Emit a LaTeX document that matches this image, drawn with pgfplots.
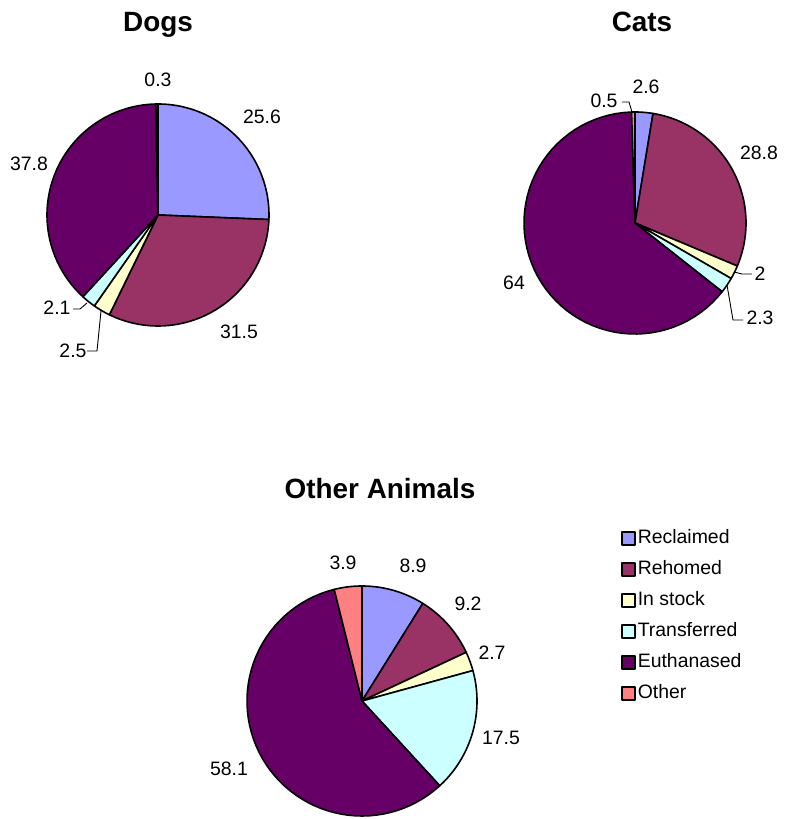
\documentclass[border=0pt]{standalone}
\usepackage{pgfplots}
\pgfplotsset{compat=1.18}
\usepackage{pgfplotstable}
\usepackage{fontspec}
\setmainfont{Liberation Sans}

\definecolor{slice0}{HTML}{9999FF}
\definecolor{slice1}{HTML}{993366}
\definecolor{slice2}{HTML}{FFFFCC}
\definecolor{slice3}{HTML}{CCFFFF}
\definecolor{slice4}{HTML}{660066}
\definecolor{slice5}{HTML}{FF8080}

\tikzset{
  lbl/.style={font=\fontsize{19.5}{22}\selectfont},
  ttl/.style={font=\bfseries\fontsize{28}{30}\selectfont, anchor=base},
}

% shares in percent, clockwise from 12 o'clock:
% Reclaimed, Rehomed, In stock, Transferred, Euthanased, Other
\pgfplotstableread{
value
25.6
31.5
2.5
2.1
37.8
0.3
}\dogs
\pgfplotstableread{
value
2.6
28.8
2
2.3
64
0.5
}\cats
\pgfplotstableread{
value
8.9
9.2
2.7
17.5
58.1
3.9
}\others

% #1 table, #2 #3 centre, #4 radius, #5 extra plot options
\newcommand\drawpie[5]{%
  \gdef\pietotal{0}%
  \pgfplotsinvokeforeach{0,1,2,3,4,5}{%
    \pgfplotstablegetelem{##1}{value}\of{#1}%
    \pgfmathparse{\pietotal+\pgfplotsretval}%
    \xdef\pietotal{\pgfmathresult}%
  }%
  \gdef\piecum{0}%
  \pgfplotsinvokeforeach{0,1,2,3,4,5}{%
    \pgfplotstablegetelem{##1}{value}\of{#1}%
    \pgfmathparse{90-360*(\piecum/\pietotal)}\xdef\pa{\pgfmathresult}%
    \pgfmathparse{\piecum+\pgfplotsretval}\xdef\piecum{\pgfmathresult}%
    \pgfmathparse{90-360*(\piecum/\pietotal)}\xdef\pb{\pgfmathresult}%
    \edef\temp{\noexpand\addplot[wedge, fill=slice##1, domain=\pb:\pa, #5]
      ({#2+#4*cos(x)},{#3+#4*sin(x)}) -- (axis cs:#2,#3) -- cycle;}%
    \temp
  }%
}

\begin{document}
\begin{tikzpicture}
\begin{axis}[
  width=786bp, height=819bp, scale only axis,
  xmin=0, xmax=786, ymin=0, ymax=819,
  hide axis, clip=false,
  wedge/.style={draw=black, line width=1.6bp, samples=60, line join=round},
  legend image code/.code={\filldraw[#1] (0bp,-7bp) rectangle (13bp,6bp);},
  legend style={at={(axis cs:621,292)}, anchor=north west, draw=none, fill=none,
    font=\fontsize{19.5}{22}\selectfont, row sep=9bp, inner sep=0pt,
    nodes={inner sep=2bp, text height=14bp, text depth=4bp}},
  legend cell align=left,
  leader/.style={black, line width=0.9bp, forget plot},
]
\path (rel axis cs:0,0) rectangle (rel axis cs:1,1);

\drawpie{\dogs}{158}{604}{111}{forget plot}
\drawpie{\cats}{635}{596}{111}{forget plot}
\drawpie{\others}{362}{118}{115}{}
\legend{Reclaimed, Rehomed, In stock, Transferred, Euthanased, Other}

% leader lines for the thin slices
\addplot[leader] coordinates {(87,468) (97,468) (101,508)};
\addplot[leader] coordinates {(73,510) (80,510) (87,516)};
\addplot[leader] coordinates {(622,717) (629,717) (632,707)};
\addplot[leader] coordinates {(752,545) (742,545) (734,547)};
\addplot[leader] coordinates {(743,499) (733,499) (727,534)};

% titles
\node[ttl] at (axis cs:158,787) {Dogs};
\node[ttl] at (axis cs:642,787) {Cats};
\node[ttl] at (axis cs:380,320) {Other Animals};

% slice labels
\node[lbl] at (axis cs:158,739) {0.3};
\node[lbl] at (axis cs:262,702) {25.6};
\node[lbl] at (axis cs:239,487) {31.5};
\node[lbl] at (axis cs:73,468) {2.5};
\node[lbl] at (axis cs:57,511) {2.1};
\node[lbl] at (axis cs:29,655) {37.8};

\node[lbl] at (axis cs:646,732) {2.6};
\node[lbl] at (axis cs:604,718) {0.5};
\node[lbl] at (axis cs:759,666) {28.8};
\node[lbl] at (axis cs:760,545) {2};
\node[lbl] at (axis cs:760,501) {2.3};
\node[lbl] at (axis cs:514,536) {64};

\node[lbl] at (axis cs:343,256) {3.9};
\node[lbl] at (axis cs:413,253) {8.9};
\node[lbl] at (axis cs:468,215) {9.2};
\node[lbl] at (axis cs:492,166) {2.7};
\node[lbl] at (axis cs:501,81) {17.5};
\node[lbl] at (axis cs:229,50) {58.1};
\end{axis}
\end{tikzpicture}
\end{document}
